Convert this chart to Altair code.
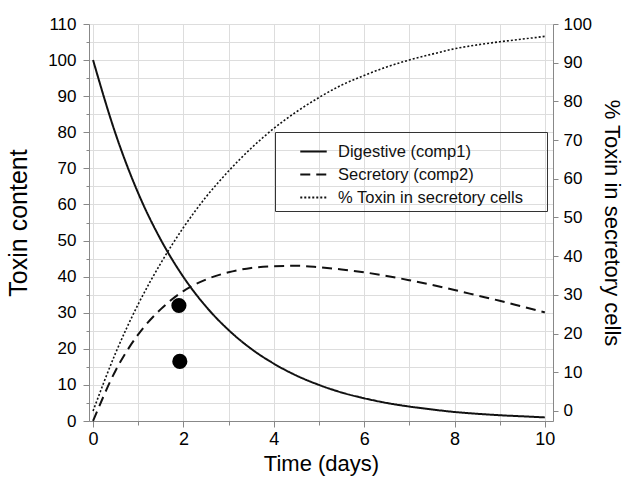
import altair as alt
import pandas as pd

# ---- data ----
time = [0, 0.5, 1, 1.5, 2, 2.5, 3, 3.5, 4, 4.5, 5, 5.5, 6, 6.5, 7, 7.5, 8, 8.5, 9, 9.5, 10]
digestive = [100, 79.5, 63.1, 50.2, 39.9, 31.7, 25.2, 20.0, 15.9, 12.6, 10.0, 7.9, 6.3, 5.0,
             4.0, 3.2, 2.5, 2.0, 1.6, 1.3, 1.0]
secretory = [0, 14, 24, 31, 36, 39.2, 41.2, 42.4, 42.9, 43.0, 42.6, 42.0, 41.2, 40.2,
             39.0, 37.7, 36.3, 34.8, 33.3, 31.7, 30.1]
percent = [0, 15.0, 27.6, 38.2, 47.4, 55.3, 62.0, 67.9, 73.0, 77.3, 81.0, 84.2, 86.7, 88.9,
           90.7, 92.2, 93.6, 94.6, 95.4, 96.1, 96.8]
dot_time = [1.9, 1.92]
dot_value = [32, 16.5]

names = ["Digestive (comp1)", "Secretory (comp2)", "% Toxin in secretory cells"]
dashes = [[1, 0], [10, 6], [2, 2]]

n = len(time)
left_df = pd.DataFrame({
    "time": time + time,
    "value": digestive + secretory,
    "series": [names[0]] * n + [names[1]] * n,
})
right_df = pd.DataFrame({"time": time, "pct": percent, "series": [names[2]] * n})
dot_df = pd.DataFrame({"time": dot_time, "value": dot_value})

FONT = "Liberation Sans"
INK = "#111111"

dash_scale = alt.Scale(domain=names, range=dashes)

x_enc = alt.X(
    "time:Q",
    scale=alt.Scale(domain=[-0.09, 10.18], nice=False, zero=False),
    axis=alt.Axis(
        title="Time (days)", values=list(range(11)),
        labelExpr="datum.value % 2 == 0 ? datum.label : ''",
        titleFontSize=22, titleFontWeight="normal", labelFontSize=18, titlePadding=5,
        tickSize={"condition": {"test": "datum.value % 2 != 0", "value": 4}, "value": 6},
        labelPadding=3,
    ),
)

y_left = alt.Y(
    "value:Q",
    scale=alt.Scale(domain=[0, 110], nice=False, zero=False),
    axis=alt.Axis(
        title="Toxin content", values=list(range(0, 111, 5)),
        labelExpr="datum.value % 10 == 0 ? datum.label : ''",
        titleFontSize=25, titleFontWeight="normal", labelFontSize=17, titlePadding=16,
        tickSize={"condition": {"test": "datum.value % 10 != 0", "value": 3}, "value": 6},
        labelPadding=7,
    ),
)

y_right = alt.Y(
    "pct:Q",
    scale=alt.Scale(domain=[-2.6, 100], nice=False, zero=False),
    axis=alt.Axis(
        title="% Toxin in secretory cells", orient="right", values=list(range(0, 101, 10)),
        titleFontSize=22, titleFontWeight="normal", labelFontSize=17, titlePadding=8,
        tickSize=5, labelPadding=5,
    ),
)

legend = alt.Legend(
    title=" ", titleOrient="right", titlePadding=19, titleFontSize=16,
    orient="none", legendX=186, legendY=108,
    symbolType="stroke", symbolSize=700, symbolStrokeWidth=2, symbolStrokeColor=INK,
    labelFontSize=16.5, labelFont=FONT, labelColor=INK, labelLimit=400,
    strokeColor="#333333", padding=5, rowPadding=0, symbolOffset=19, labelOffset=10,
)

left_lines = alt.Chart(left_df).mark_line(color=INK, strokeWidth=2, interpolate="monotone").encode(
    x=x_enc, y=y_left,
    strokeDash=alt.StrokeDash("series:N", scale=dash_scale, legend=legend),
)

dots = alt.Chart(dot_df).mark_point(filled=True, color="black", opacity=1, size=230, shape="circle").encode(
    x=x_enc, y=y_left,
)

right_line = alt.Chart(right_df).mark_line(color=INK, strokeWidth=1.6, interpolate="monotone").encode(
    x=x_enc, y=y_right,
    strokeDash=alt.StrokeDash("series:N", scale=dash_scale, legend=legend),
)

chart = alt.layer(alt.layer(left_lines, dots), right_line).resolve_scale(
    y="independent"
).properties(
    width=464, height=397,
    padding={"left": 89, "top": 24, "right": 71, "bottom": 65},
    autosize=alt.AutoSizeParams(type="none"),
).configure_view(
    stroke="black", strokeWidth=1,
).configure_axis(
    labelFont=FONT, titleFont=FONT, labelColor=INK, titleColor=INK,
    domainColor="black", tickColor="black", grid=False, titleFontWeight="normal",
).configure(background="white")

chart.save("out.html", embed_options={"renderer": "svg", "actions": False})
